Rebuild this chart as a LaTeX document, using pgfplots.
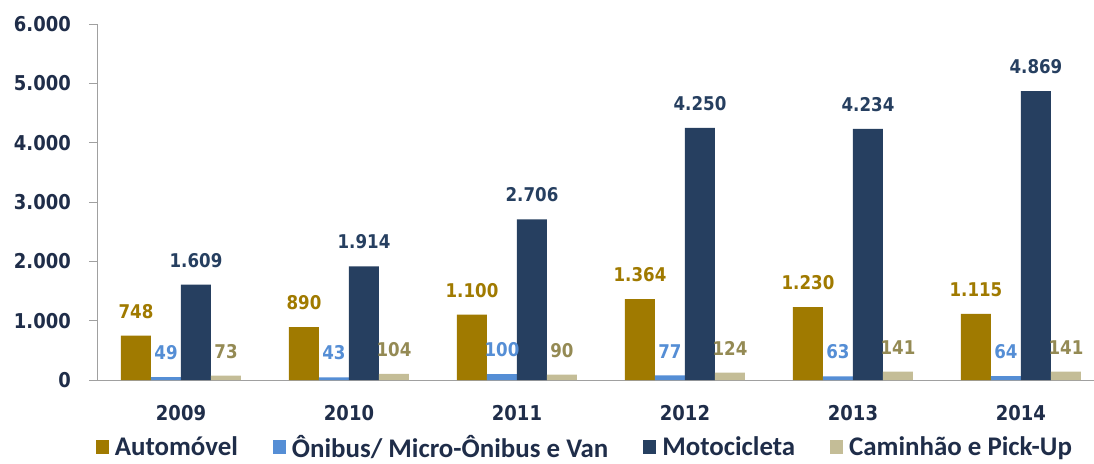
\documentclass[border=0pt]{standalone}
\usepackage{fontspec}
\setmainfont{DejaVu Sans}
\newfontfamily\numfont[FakeStretch=0.88]{DejaVu Sans}
\newfontfamily\legfont{Carlito}
\usepackage{pgfplots}
\pgfplotsset{compat=1.18}
\definecolor{cAuto}{RGB}{160,122,0}
\definecolor{cOnib}{RGB}{85,142,213}
\definecolor{cMoto}{RGB}{38,63,96}
\definecolor{cCam}{RGB}{196,189,151}
\definecolor{cCamTxt}{RGB}{148,138,84}
\definecolor{navy}{RGB}{31,45,73}
\definecolor{axgray}{RGB}{160,160,160}
\begin{document}
\begin{tikzpicture}
\begin{axis}[
  scale only axis,
  width=1008bp, height=356bp,
  xmin=-0.5, xmax=5.5, ymin=0, ymax=6000,
  ybar=0pt, bar width=30bp,
  axis x line*=bottom, axis y line*=left,
  axis line style={draw=axgray, line width=1pt},
  tick align=outside,
  ytick={0,1000,...,6000},
  major tick length=8bp,
  every tick/.style={draw=axgray, line width=1pt},
  xtick={0,...,5},
  xticklabels={2009,2010,2011,2012,2013,2014},
  x tick style={draw=none},
  extra x ticks={-0.5,0.5,1.5,2.5,3.5,4.5,5.5},
  extra x tick labels={},
  extra x tick style={tick style={draw=axgray, line width=1pt}},
  /pgf/number format/.cd, 1000 sep={.}, fixed, assume math mode=true,
  /pgfplots/.cd,
  tick label style={font=\numfont\bfseries\fontsize{20.5}{20.5}\selectfont, text=navy},
  yticklabel style={anchor=east, inner sep=0pt, xshift=-18bp},
  xticklabel style={anchor=center, inner sep=0pt, yshift=-25bp},
  nodes near coords,
  every node near coord/.append style={font=\numfont\bfseries\fontsize{19}{19}\selectfont, anchor=south, inner sep=0pt, yshift=17bp},
  legend columns=-1,
  legend image code/.code={\fill[#1] (0bp,-7bp) rectangle (13bp,7bp);},
  legend style={at={(0.484,-0.188)}, anchor=center, draw=none, fill=none,
    font=\legfont\bfseries\fontsize{27}{27}\selectfont, text=navy,
    /tikz/every even column/.append style={column sep=33bp},
    /tikz/every odd column/.append style={column sep=4bp}},
]
\addplot[fill=cAuto, draw=none, every node near coord/.append style={text=cAuto}] coordinates {
  (0,748) (1,890) (2,1100) (3,1364) (4,1230) (5,1115)};
\addplot[fill=cOnib, draw=none, every node near coord/.append style={text=cOnib}] coordinates {
  (0,49) (1,43) (2,100) (3,77) (4,63) (5,64)};
\addplot[fill=cMoto, draw=none, every node near coord/.append style={text=cMoto}] coordinates {
  (0,1609) (1,1914) (2,2706) (3,4250) (4,4234) (5,4869)};
\addplot[fill=cCam, draw=none, every node near coord/.append style={text=cCamTxt}] coordinates {
  (0,73) (1,104) (2,90) (3,124) (4,141) (5,141)};
\legend{Automóvel, Ônibus/ Micro-Ônibus e Van, Motocicleta, Caminhão e Pick-Up}
\end{axis}
\pgfresetboundingbox
\useasboundingbox (-97bp,-84bp) rectangle (997bp,380bp);
\end{tikzpicture}
\end{document}
